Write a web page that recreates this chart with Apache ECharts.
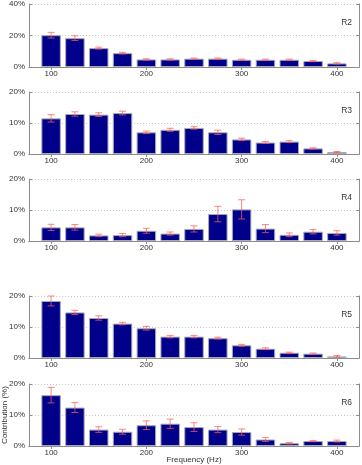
<!DOCTYPE html>
<html>
<head>
<meta charset="utf-8">
<script src="https://cdn.jsdelivr.net/npm/echarts@6/dist/echarts.min.js"></script>
<style>
  html, body { margin: 0; padding: 0; background: #fff; }
  #chart { width: 362px; height: 465px; }
</style>
</head>
<body>
<div id="chart"></div>
<script>
// frequency bins (Hz)
var freqs = [100, 125, 150, 175, 200, 225, 250, 275, 300, 325, 350, 375, 400];
var xTicks = [100, 200, 300, 400];
var panelNames = ['R2', 'R3', 'R4', 'R5', 'R6'];
var yMax = [40, 20, 20, 20, 20];
var yStep = [20, 10, 10, 10, 10];

// contribution (%) per panel
var r2 = [20.2, 18.3, 12.0, 8.8, 4.8, 4.8, 5.3, 5.3, 4.6, 4.6, 4.6, 3.8, 2.3];
var r3 = [11.5, 12.9, 12.7, 13.2, 7.0, 7.8, 8.4, 7.0, 4.7, 3.7, 4.0, 1.8, 0.6];
var r4 = [4.4, 4.4, 1.8, 1.9, 3.3, 2.4, 3.9, 8.7, 10.2, 4.0, 2.0, 3.0, 2.6];
var r5 = [18.4, 14.7, 12.9, 11.1, 9.6, 6.9, 6.9, 6.4, 4.1, 3.0, 1.7, 1.4, 0.5];
var r6 = [16.4, 12.4, 5.3, 4.6, 6.7, 7.2, 6.1, 5.3, 4.5, 2.1, 0.9, 1.6, 1.6];

// error bar half widths (%)
var e2 = [1.8, 1.5, 0.6, 0.5, 0.4, 0.4, 0.4, 0.4, 0.4, 0.4, 0.4, 0.4, 0.4];
var e3 = [1.2, 0.7, 0.6, 0.6, 0.4, 0.5, 0.4, 0.7, 0.4, 0.3, 0.3, 0.2, 0.2];
var e4 = [1.0, 0.9, 0.4, 0.5, 0.8, 0.5, 1.0, 2.5, 3.1, 1.3, 0.6, 0.7, 0.7];
var e5 = [1.6, 0.7, 0.7, 0.4, 0.6, 0.4, 0.4, 0.3, 0.3, 0.3, 0.2, 0.2, 0.3];
var e6 = [2.5, 1.6, 0.9, 0.8, 1.4, 1.5, 1.4, 1.0, 1.0, 0.6, 0.2, 0.2, 0.3];

var values = [r2, r3, r4, r5, r6];
var errors = [e2, e3, e4, e5, e6];
var tops = [4, 92, 179, 296, 384];
var plotH = 62;

var font = 'Liberation Sans, Arial, sans-serif';
var chart = echarts.init(document.getElementById('chart'));

var grids = [], xAxes = [], yAxes = [], series = [], titles = [];

panelNames.forEach(function (name, i) {
  grids.push({left: 29, right: 3, top: tops[i], height: plotH + (i === 0 ? 1 : 0),
    outerBoundsMode: 'none', containLabel: false});

  var xBase = {
    type: 'value', gridIndex: i, min: 76.8, max: 423.2,
    axisLine: {lineStyle: {color: '#8c8c8c'}},
    splitLine: {show: false}
  };
  xAxes.push(Object.assign({}, xBase, {
    position: 'bottom',
    axisTick: {inside: true, length: 3, customValues: xTicks, lineStyle: {color: '#8c8c8c'}},
    axisLabel: {customValues: xTicks, fontSize: 8, color: '#333', fontFamily: font, margin: 3}
  }));
  xAxes.push(Object.assign({}, xBase, {
    position: 'top',
    axisTick: {inside: true, length: 3, customValues: xTicks, lineStyle: {color: '#8c8c8c'}},
    axisLabel: {show: false}
  }));

  var yBase = {
    type: 'value', gridIndex: i, min: 0, max: yMax[i], interval: yStep[i],
    axisLine: {show: true, lineStyle: {color: '#8c8c8c'}}
  };
  yAxes.push(Object.assign({}, yBase, {
    position: 'left',
    axisTick: {show: true, inside: true, length: 3, lineStyle: {color: '#8c8c8c'}},
    axisLabel: {fontSize: 8, color: '#333', fontFamily: font, margin: 4,
      formatter: function (v) { return v + '%'; }},
    splitLine: {show: true, lineStyle: {color: '#c8c8c8', type: [1, 2], width: 1}}
  }));
  yAxes.push(Object.assign({}, yBase, {
    position: 'right',
    axisTick: {show: true, inside: true, length: 3, lineStyle: {color: '#8c8c8c'}},
    axisLabel: {show: false},
    splitLine: {show: false}
  }));

  var vals = values[i], errs = errors[i];
  series.push({
    type: 'bar', xAxisIndex: 2 * i, yAxisIndex: 2 * i,
    barWidth: 19.5,
    itemStyle: {color: '#00008b', borderColor: '#a8a8b8', borderWidth: 1},
    data: freqs.map(function (f, k) { return [f, vals[k]]; }),
    silent: true
  });
  series.push({
    type: 'custom', xAxisIndex: 2 * i, yAxisIndex: 2 * i,
    data: freqs.map(function (f, k) { return [f, vals[k] - errs[k], vals[k] + errs[k]]; }),
    renderItem: function (params, api) {
      var lo = api.coord([api.value(0), api.value(1)]);
      var hi = api.coord([api.value(0), api.value(2)]);
      var hw = 3.5;
      var st = {stroke: '#ff5c5c', lineWidth: 1, opacity: 0.75};
      return {type: 'group', children: [
        {type: 'line', shape: {x1: lo[0], y1: lo[1], x2: hi[0], y2: hi[1]}, style: st},
        {type: 'line', shape: {x1: lo[0] - hw, y1: lo[1], x2: lo[0] + hw, y2: lo[1]}, style: st},
        {type: 'line', shape: {x1: hi[0] - hw, y1: hi[1], x2: hi[0] + hw, y2: hi[1]}, style: st}
      ]};
    },
    z: 5, silent: true
  });

  titles.push({
    text: name, right: 5, top: tops[i] + 9,
    textStyle: {fontSize: 8.5, fontWeight: 'normal', color: '#333', fontFamily: font}
  });
});

chart.setOption({
  animation: false,
  title: titles,
  grid: grids,
  xAxis: xAxes,
  yAxis: yAxes,
  series: series,
  graphic: [
    {type: 'text', x: 194, y: 460,
      style: {text: 'Frequency (Hz)', fontSize: 8, fill: '#333', fontFamily: font,
        align: 'center', verticalAlign: 'middle'}},
    {type: 'text', x: 5, y: 415, rotation: Math.PI / 2,
      style: {text: 'Contribution (%)', fontSize: 8, fill: '#333', fontFamily: font,
        align: 'center', verticalAlign: 'middle'}}
  ]
});
</script>
</body>
</html>
